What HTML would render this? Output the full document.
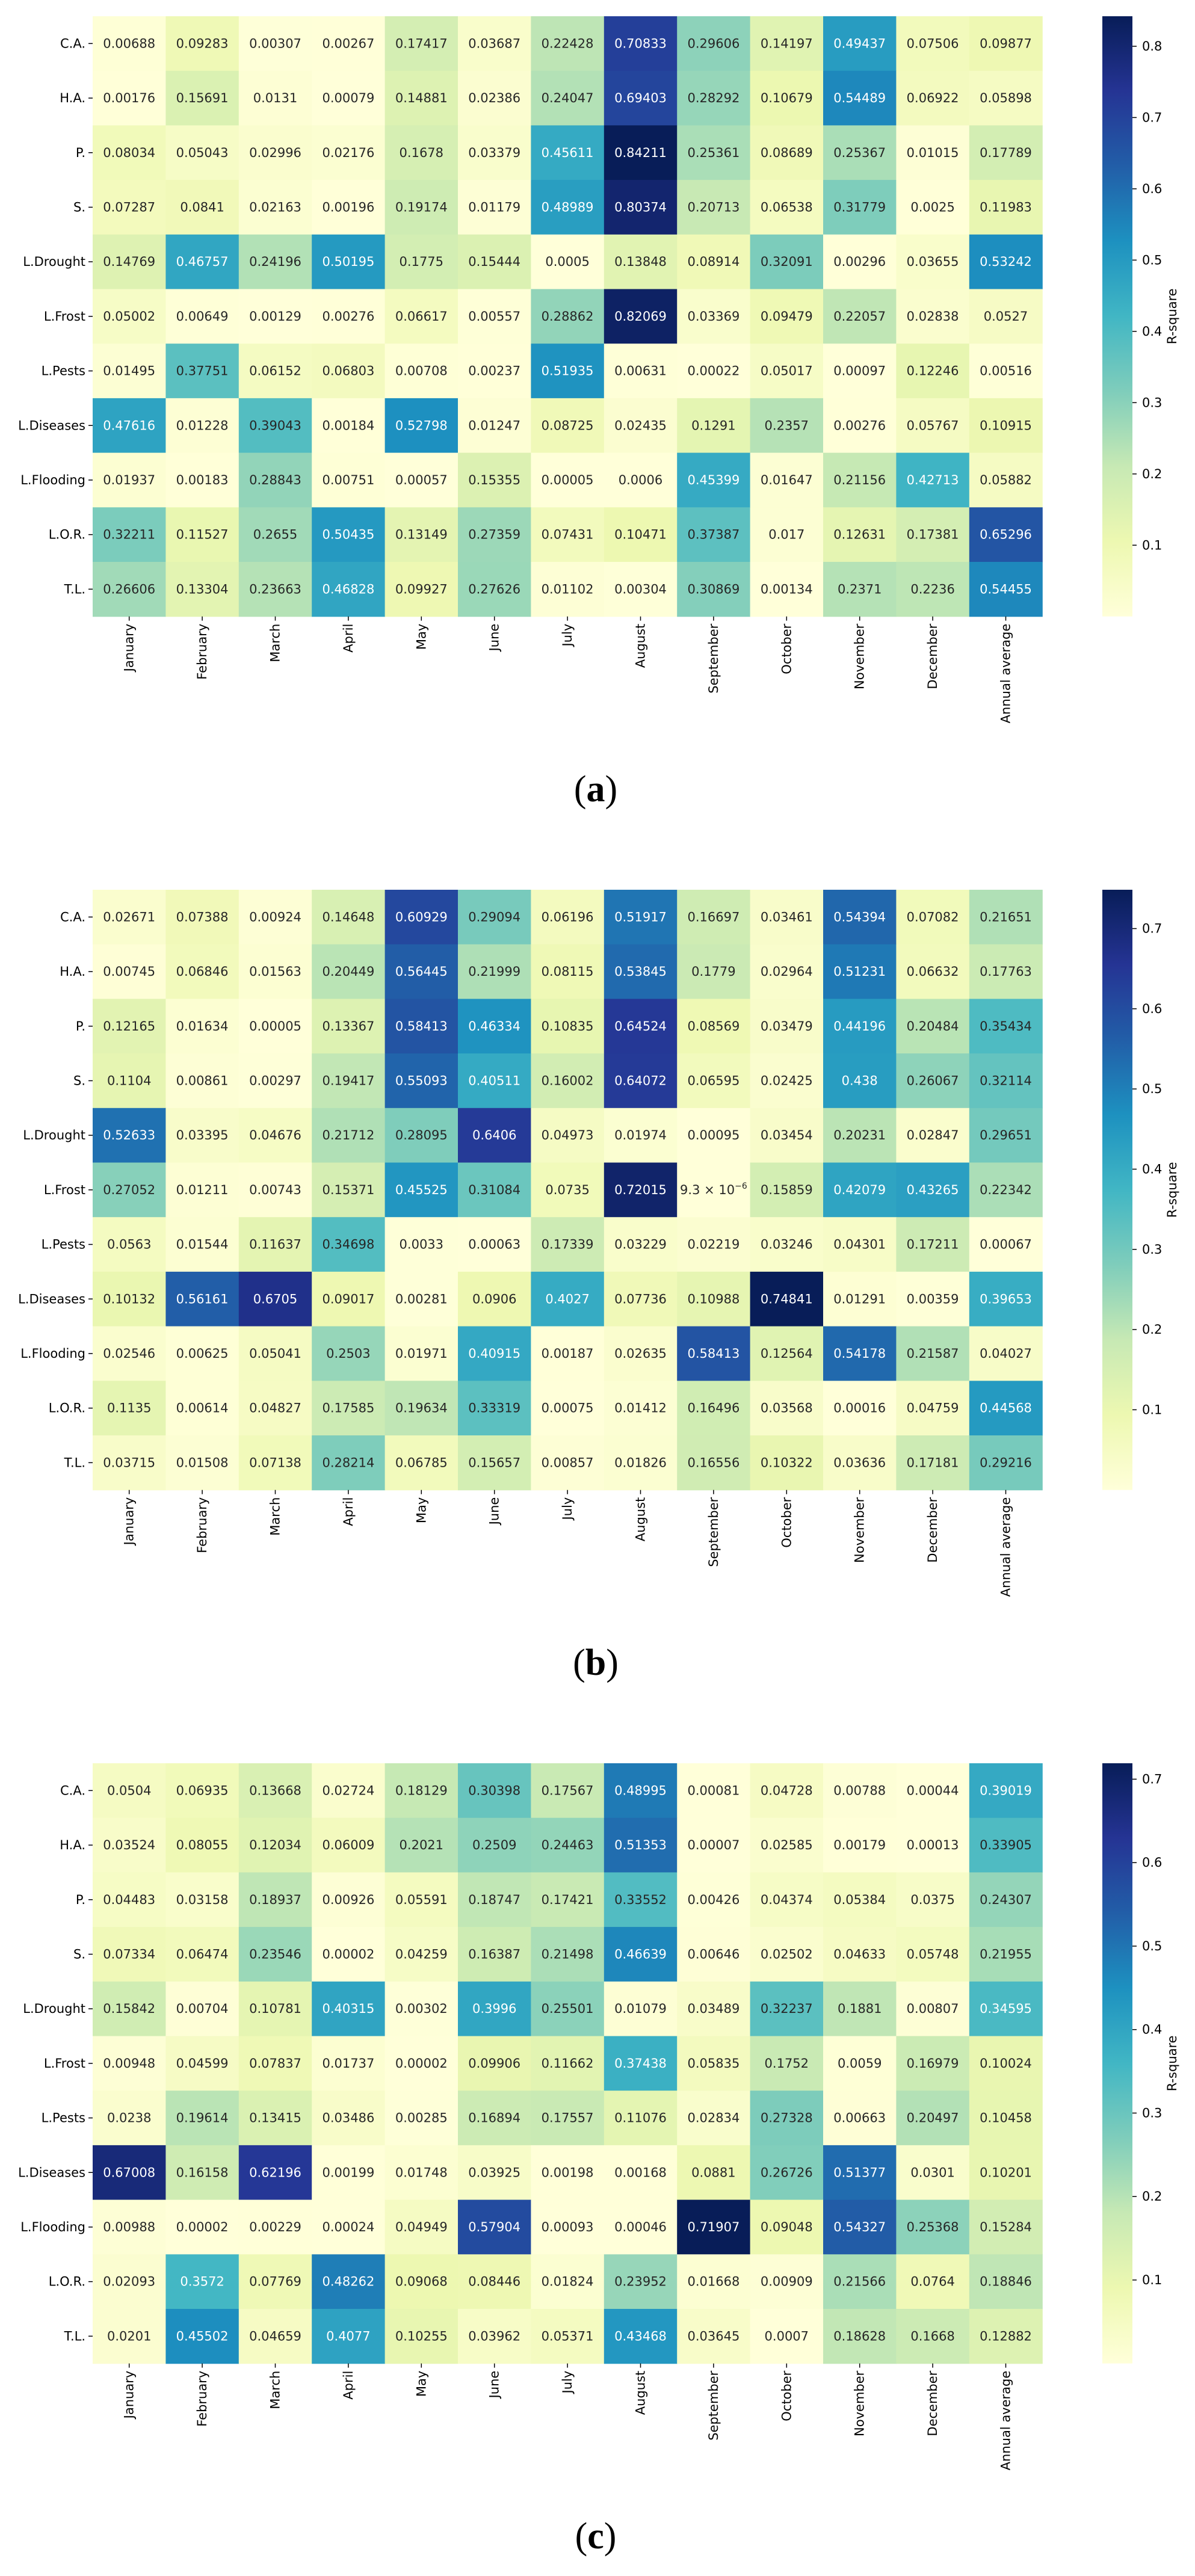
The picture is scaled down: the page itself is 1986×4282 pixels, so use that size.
<!DOCTYPE html>
<html><head><meta charset="utf-8">
<style>
html,body{margin:0;padding:0;background:#fff;}
svg text{font-family:"DejaVu Sans","Liberation Sans",sans-serif;}
</style></head>
<body>
<svg id="fig" width="1986" height="4277" viewBox="0 0 1986 4277" xmlns="http://www.w3.org/2000/svg">
<defs>
<linearGradient id="ylgnbu" x1="0" y1="1" x2="0" y2="0">
<stop offset="0" stop-color="#ffffd9"/><stop offset="0.125" stop-color="#edf8b1"/><stop offset="0.25" stop-color="#c7e9b4"/><stop offset="0.375" stop-color="#7fcdbb"/><stop offset="0.5" stop-color="#41b6c4"/><stop offset="0.625" stop-color="#1d91c0"/><stop offset="0.75" stop-color="#225ea8"/><stop offset="0.875" stop-color="#253494"/><stop offset="1" stop-color="#081d58"/>
</linearGradient>
</defs>
</svg>
<script>
const rows = ["C.A.","H.A.","P.","S.","L.Drought","L.Frost","L.Pests","L.Diseases","L.Flooding","L.O.R.","T.L."];
const months = ["January","February","March","April","May","June","July","August","September","October","November","December","Annual average"];
const panelLetters = ["a","b","c"];
const valuesA = [
[0.00688,0.09283,0.00307,0.00267,0.17417,0.03687,0.22428,0.70833,0.29606,0.14197,0.49437,0.07506,0.09877],
[0.00176,0.15691,0.0131,0.00079,0.14881,0.02386,0.24047,0.69403,0.28292,0.10679,0.54489,0.06922,0.05898],
[0.08034,0.05043,0.02996,0.02176,0.1678,0.03379,0.45611,0.84211,0.25361,0.08689,0.25367,0.01015,0.17789],
[0.07287,0.0841,0.02163,0.00196,0.19174,0.01179,0.48989,0.80374,0.20713,0.06538,0.31779,0.0025,0.11983],
[0.14769,0.46757,0.24196,0.50195,0.1775,0.15444,0.0005,0.13848,0.08914,0.32091,0.00296,0.03655,0.53242],
[0.05002,0.00649,0.00129,0.00276,0.06617,0.00557,0.28862,0.82069,0.03369,0.09479,0.22057,0.02838,0.0527],
[0.01495,0.37751,0.06152,0.06803,0.00708,0.00237,0.51935,0.00631,0.00022,0.05017,0.00097,0.12246,0.00516],
[0.47616,0.01228,0.39043,0.00184,0.52798,0.01247,0.08725,0.02435,0.1291,0.2357,0.00276,0.05767,0.10915],
[0.01937,0.00183,0.28843,0.00751,0.00057,0.15355,0.00005,0.0006,0.45399,0.01647,0.21156,0.42713,0.05882],
[0.32211,0.11527,0.2655,0.50435,0.13149,0.27359,0.07431,0.10471,0.37387,0.017,0.12631,0.17381,0.65296],
[0.26606,0.13304,0.23663,0.46828,0.09927,0.27626,0.01102,0.00304,0.30869,0.00134,0.2371,0.2236,0.54455]];
const valuesB = [
[0.02671,0.07388,0.00924,0.14648,0.60929,0.29094,0.06196,0.51917,0.16697,0.03461,0.54394,0.07082,0.21651],
[0.00745,0.06846,0.01563,0.20449,0.56445,0.21999,0.08115,0.53845,0.1779,0.02964,0.51231,0.06632,0.17763],
[0.12165,0.01634,0.00005,0.13367,0.58413,0.46334,0.10835,0.64524,0.08569,0.03479,0.44196,0.20484,0.35434],
[0.1104,0.00861,0.00297,0.19417,0.55093,0.40511,0.16002,0.64072,0.06595,0.02425,0.438,0.26067,0.32114],
[0.52633,0.03395,0.04676,0.21712,0.28095,0.6406,0.04973,0.01974,0.00095,0.03454,0.20231,0.02847,0.29651],
[0.27052,0.01211,0.00743,0.15371,0.45525,0.31084,0.0735,0.72015,0.0000093,0.15859,0.42079,0.43265,0.22342],
[0.0563,0.01544,0.11637,0.34698,0.0033,0.00063,0.17339,0.03229,0.02219,0.03246,0.04301,0.17211,0.00067],
[0.10132,0.56161,0.6705,0.09017,0.00281,0.0906,0.4027,0.07736,0.10988,0.74841,0.01291,0.00359,0.39653],
[0.02546,0.00625,0.05041,0.2503,0.01971,0.40915,0.00187,0.02635,0.58413,0.12564,0.54178,0.21587,0.04027],
[0.1135,0.00614,0.04827,0.17585,0.19634,0.33319,0.00075,0.01412,0.16496,0.03568,0.00016,0.04759,0.44568],
[0.03715,0.01508,0.07138,0.28214,0.06785,0.15657,0.00857,0.01826,0.16556,0.10322,0.03636,0.17181,0.29216]];
const valuesC = [
[0.0504,0.06935,0.13668,0.02724,0.18129,0.30398,0.17567,0.48995,0.00081,0.04728,0.00788,0.00044,0.39019],
[0.03524,0.08055,0.12034,0.06009,0.2021,0.2509,0.24463,0.51353,0.00007,0.02585,0.00179,0.00013,0.33905],
[0.04483,0.03158,0.18937,0.00926,0.05591,0.18747,0.17421,0.33552,0.00426,0.04374,0.05384,0.0375,0.24307],
[0.07334,0.06474,0.23546,0.00002,0.04259,0.16387,0.21498,0.46639,0.00646,0.02502,0.04633,0.05748,0.21955],
[0.15842,0.00704,0.10781,0.40315,0.00302,0.3996,0.25501,0.01079,0.03489,0.32237,0.1881,0.00807,0.34595],
[0.00948,0.04599,0.07837,0.01737,0.00002,0.09906,0.11662,0.37438,0.05835,0.1752,0.0059,0.16979,0.10024],
[0.0238,0.19614,0.13415,0.03486,0.00285,0.16894,0.17557,0.11076,0.02834,0.27328,0.00663,0.20497,0.10458],
[0.67008,0.16158,0.62196,0.00199,0.01748,0.03925,0.00198,0.00168,0.0881,0.26726,0.51377,0.0301,0.10201],
[0.00988,0.00002,0.00229,0.00024,0.04949,0.57904,0.00093,0.00046,0.71907,0.09048,0.54327,0.25368,0.15284],
[0.02093,0.3572,0.07769,0.48262,0.09068,0.08446,0.01824,0.23952,0.01668,0.00909,0.21566,0.0764,0.18846],
[0.0201,0.45502,0.04659,0.4077,0.10255,0.03962,0.05371,0.43468,0.03645,0.0007,0.18628,0.1668,0.12882]];
const ticksA = [0.1,0.2,0.3,0.4,0.5,0.6,0.7,0.8];
const ticksB = [0.1,0.2,0.3,0.4,0.5,0.6,0.7];
const ticksC = [0.1,0.2,0.3,0.4,0.5,0.6,0.7];

const NS = "http://www.w3.org/2000/svg";
const svg = document.getElementById('fig');
const stops = ["#ffffd9","#edf8b1","#c7e9b4","#7fcdbb","#41b6c4","#1d91c0","#225ea8","#253494","#081d58"].map(h=>[1,3,5].map(i=>parseInt(h.substr(i,2),16)));
function cmap(t){t=Math.max(0,Math.min(1,t));const p=t*8,i=Math.min(7,Math.floor(p)),f=p-i;const a=stops[i],b=stops[i+1];return a.map((v,k)=>Math.round(v+(b[k]-v)*f));}
function lum(c){const l=c.map(v=>{v/=255;return v<=0.03928?v/12.92:Math.pow((v+0.055)/1.055,2.4);});return 0.2126*l[0]+0.7152*l[1]+0.0722*l[2];}
function el(tag,attrs,parent){const e=document.createElementNS(NS,tag);for(const k in attrs)e.setAttribute(k,attrs[k]);(parent||svg).appendChild(e);return e;}
function fmt(v,t){
  if(v<1e-5){const ex=Math.floor(Math.log10(v));const m=(v/Math.pow(10,ex)).toPrecision(2).replace(/\.?0+$/,'');
    t.appendChild(document.createTextNode(m+" \u00d7 10"));
    const s=document.createElementNS(NS,'tspan');s.setAttribute('font-size','14');s.setAttribute('dy','-9');s.textContent="\u2212"+Math.abs(ex);t.appendChild(s);}
  else t.textContent=String(v);
}
const X0=154, CW=121.4, CH=90.7, CBX=1832, CBW=50;
function drawPanel(data,ticks,top,letter,idx){
  const g=el('g',{});
  
  
  const flat=data.flat();const vmin=Math.min(...flat),vmax=Math.max(...flat);
  const H=CH*rows.length;
  const xs=j=>X0+j*CW, ys=i=>top+i*CH;
  data.forEach((row,i)=>row.forEach((v,j)=>{
    const c=cmap((v-vmin)/(vmax-vmin));
    const r=el('rect',{x:xs(j),y:ys(i),width:CW+0.6,height:CH+0.6,fill:`rgb(${c})`},g);
    
    
    const t=el('text',{x:xs(j)+CW/2,y:ys(i)+CH/2+7,'text-anchor':'middle','font-size':'21',fill:lum(c)>0.408?'#262626':'#ffffff'},g);
    
    
    fmt(v,t);
  }));
  rows.forEach((r,i)=>{
    const y=ys(i)+CH/2;
    el('line',{x1:X0-7,x2:X0,y1:y,y2:y,stroke:'#000','stroke-width':'1.5'},g);
    const t=el('text',{x:X0-12,y:y+7,'text-anchor':'end','font-size':'21',fill:'#000'},g);
    
    
    t.textContent=r;
  });
  months.forEach((m,j)=>{
    const x=xs(j)+CW/2, yb=top+H;
    el('line',{x1:x,x2:x,y1:yb,y2:yb+7,stroke:'#000','stroke-width':'1.5'},g);
    const t=el('text',{x:0,y:0,'text-anchor':'end','font-size':'21',fill:'#000',transform:`translate(${x+7},${yb+12}) rotate(-90)`},g);
    
    
    t.textContent=m;
  });
  const cb=el('rect',{x:CBX,y:top,width:CBW,height:H,fill:'url(#ylgnbu)'},g);
  
  
  ticks.forEach(tv=>{
    const y=top+H-(tv-vmin)/(vmax-vmin)*H;
    el('line',{x1:CBX+CBW,x2:CBX+CBW+7,y1:y,y2:y,stroke:'#000','stroke-width':'1.5'},g);
    const t=el('text',{x:CBX+CBW+16,y:y+7,'font-size':'21',fill:'#000'},g);
    
    
    t.textContent=String(tv);
  });
  const cy=top+H/2;
  const tl=el('text',{x:0,y:0,'text-anchor':'middle','font-size':'21',fill:'#000',transform:`translate(${1955},${cy}) rotate(-90)`},g);
  
  
  tl.textContent="R-square";
  const cap=el('text',{x:990,y:top+1305,'text-anchor':'middle','font-size':'62',fill:'#000',style:'font-family:"Liberation Serif",serif'},g);
  
  
  cap.appendChild(document.createTextNode('('));
  const b=document.createElementNS(NS,'tspan');b.setAttribute('font-weight','bold');b.textContent=letter;cap.appendChild(b);
  cap.appendChild(document.createTextNode(')'));
}
drawPanel(valuesA,ticksA,27,panelLetters[0],'a');
drawPanel(valuesB,ticksB,1479,panelLetters[1],'b');
drawPanel(valuesC,ticksC,2931,panelLetters[2],'c');
</script>
</body></html>
